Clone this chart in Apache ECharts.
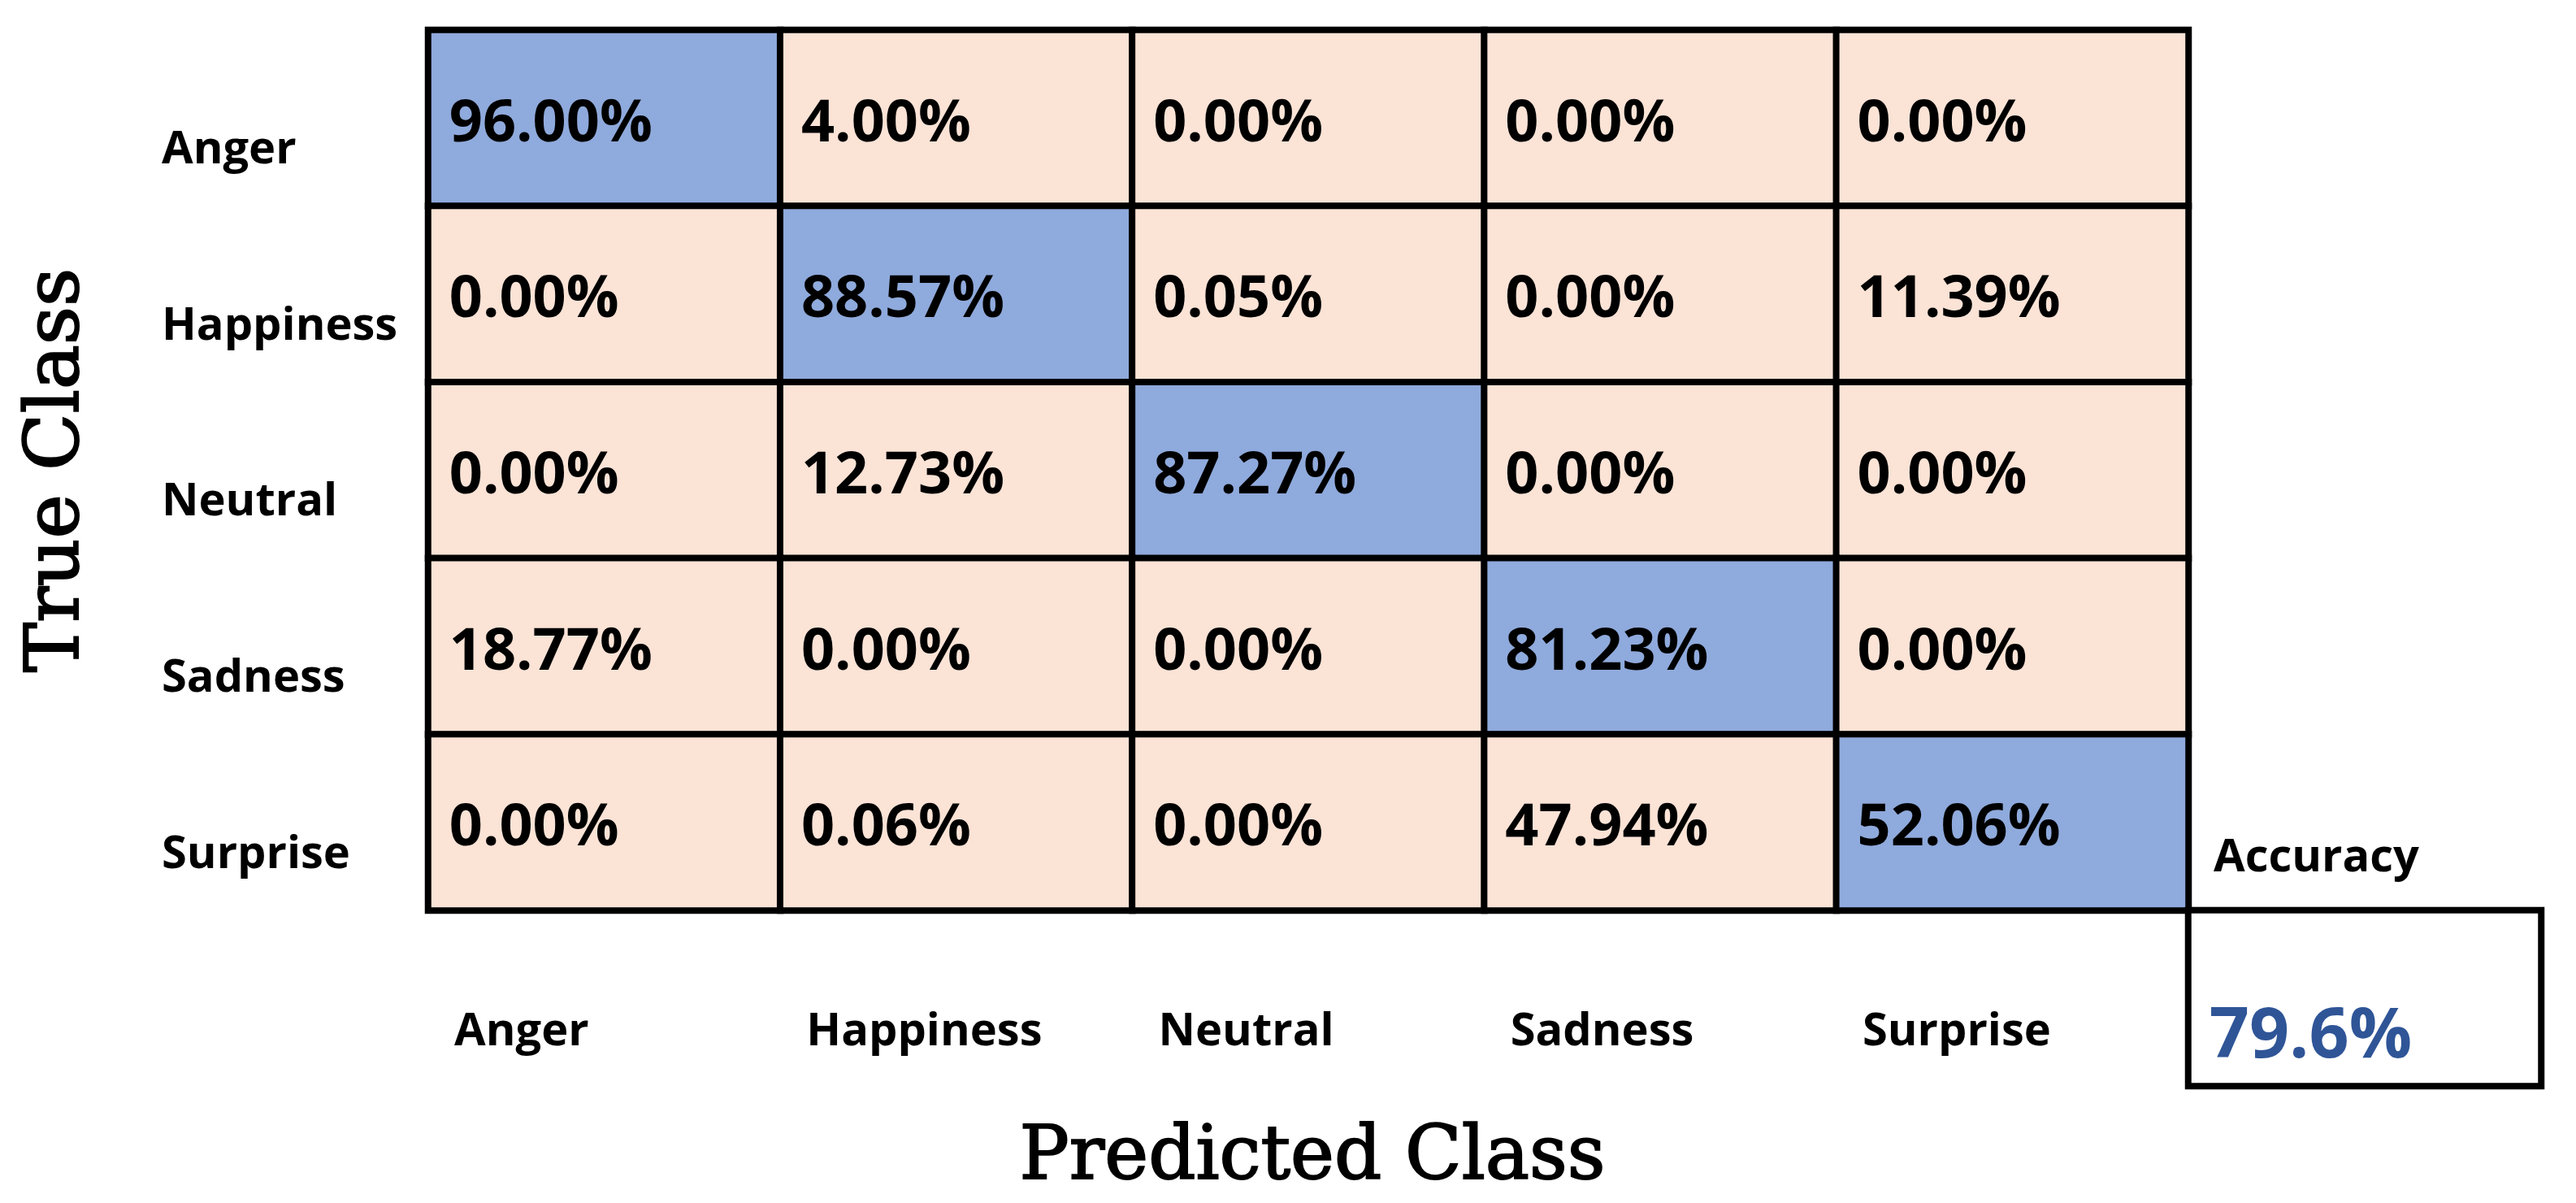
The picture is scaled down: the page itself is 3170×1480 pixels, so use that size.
<!DOCTYPE html>
<html>
<head>
<meta charset="utf-8">
<script src="https://cdn.jsdelivr.net/npm/echarts@6/dist/echarts.min.js"></script>
<style>
html,body{margin:0;padding:0;background:#fff;}
#chart{width:3170px;height:1480px;}
</style>
</head>
<body>
<div id="chart"></div>
<script>
const trueClasses = ['Anger', 'Happiness', 'Neutral', 'Sadness', 'Surprise'];
const predClasses = ['Anger', 'Happiness', 'Neutral', 'Sadness', 'Surprise'];
const confusion = [
  [96.00, 4.00, 0.00, 0.00, 0.00],
  [0.00, 88.57, 0.05, 0.00, 11.39],
  [0.00, 12.73, 87.27, 0.00, 0.00],
  [18.77, 0.00, 0.00, 81.23, 0.00],
  [0.00, 0.06, 0.00, 47.94, 52.06]
];
const accuracy = 79.6;
const accuracyLabel = 'Accuracy';
const xTitle = 'Predicted Class';
const yTitle = 'True Class';

const BLUE = '#8FAADC';
const PEACH = '#FBE3D6';
const SANS = '"Open Sans", "Noto Sans", sans-serif';
const SERIF = '"DejaVu Serif", serif';

const cells = [];
confusion.forEach((row, r) => {
  row.forEach((v, c) => {
    cells.push({
      value: [c, r, v],
      itemStyle: { color: r === c ? BLUE : PEACH }
    });
  });
});

const chart = echarts.init(document.getElementById('chart'));
chart.setOption({
  animation: false,
  backgroundColor: '#fff',
  grid: [
    { left: 527, top: 37, width: 2166, height: 1083 },
    { left: 2693, top: 1120, width: 434, height: 216 }
  ],
  xAxis: [
    {
      gridIndex: 0, type: 'category', data: predClasses,
      axisLine: { show: false }, axisTick: { show: false }, splitLine: { show: false },
      axisLabel: {
        margin: 150, align: 'center', verticalAlign: 'middle',
        formatter: v => '{t|' + v + '}',
        rich: { t: { width: 369, align: 'left', fontSize: 56, fontWeight: 'bold', fontFamily: SANS, color: '#000' } }
      },
      name: xTitle, nameLocation: 'middle', nameGap: 306,
      nameTextStyle: { fontFamily: SERIF, fontSize: 91, color: '#000', verticalAlign: 'middle', padding: [0, 0, 0, 10],
        textBorderColor: '#000', textBorderWidth: 2 }
    },
    {
      gridIndex: 1, type: 'category', data: [''], show: false
    }
  ],
  yAxis: [
    {
      gridIndex: 0, type: 'category', data: trueClasses, inverse: true,
      axisLine: { show: false }, axisTick: { show: false }, splitLine: { show: false },
      axisLabel: {
        margin: 328, align: 'left', verticalAlign: 'middle',
        formatter: v => '{t|' + v + '}',
        rich: { t: { padding: [80, 0, 0, 0], fontSize: 56, fontWeight: 'bold', fontFamily: SANS, color: '#000' } }
      },
      name: yTitle, nameLocation: 'middle', nameGap: 455, nameRotate: 90,
      nameTextStyle: { fontFamily: SERIF, fontSize: 92, color: '#000', verticalAlign: 'middle',
        textBorderColor: '#000', textBorderWidth: 2 }
    },
    {
      gridIndex: 1, type: 'category', data: [''], show: false
    }
  ],
  series: [
    {
      type: 'heatmap', xAxisIndex: 0, yAxisIndex: 0,
      data: cells,
      itemStyle: { borderColor: '#000', borderWidth: 8 },
      label: {
        show: true, position: 'insideLeft', distance: 30,
        formatter: p => p.value[2].toFixed(2) + '%',
        fontSize: 72, fontWeight: 'bold', fontFamily: SANS, color: '#000', offset: [0, 8]
      },
      emphasis: { disabled: true }
    },
    {
      type: 'heatmap', xAxisIndex: 1, yAxisIndex: 1,
      data: [{ value: [0, 0, accuracy], itemStyle: { color: '#fff' } }],
      itemStyle: { borderColor: '#000', borderWidth: 8 },
      label: {
        show: true, position: 'insideLeft', distance: 30,
        formatter: p => p.value[2].toFixed(1) + '%',
        fontSize: 86, fontWeight: 'bold', fontFamily: SANS, color: '#2F5597', offset: [0, 48]
      },
      emphasis: { disabled: true }
    }
  ],
  graphic: [
    {
      type: 'text', x: 2724, y: 1056,
      style: { text: accuracyLabel, fontSize: 56, fontWeight: 'bold', fontFamily: SANS, fill: '#000', verticalAlign: 'middle', align: 'left' }
    }
  ]
});
</script>
</body>
</html>
